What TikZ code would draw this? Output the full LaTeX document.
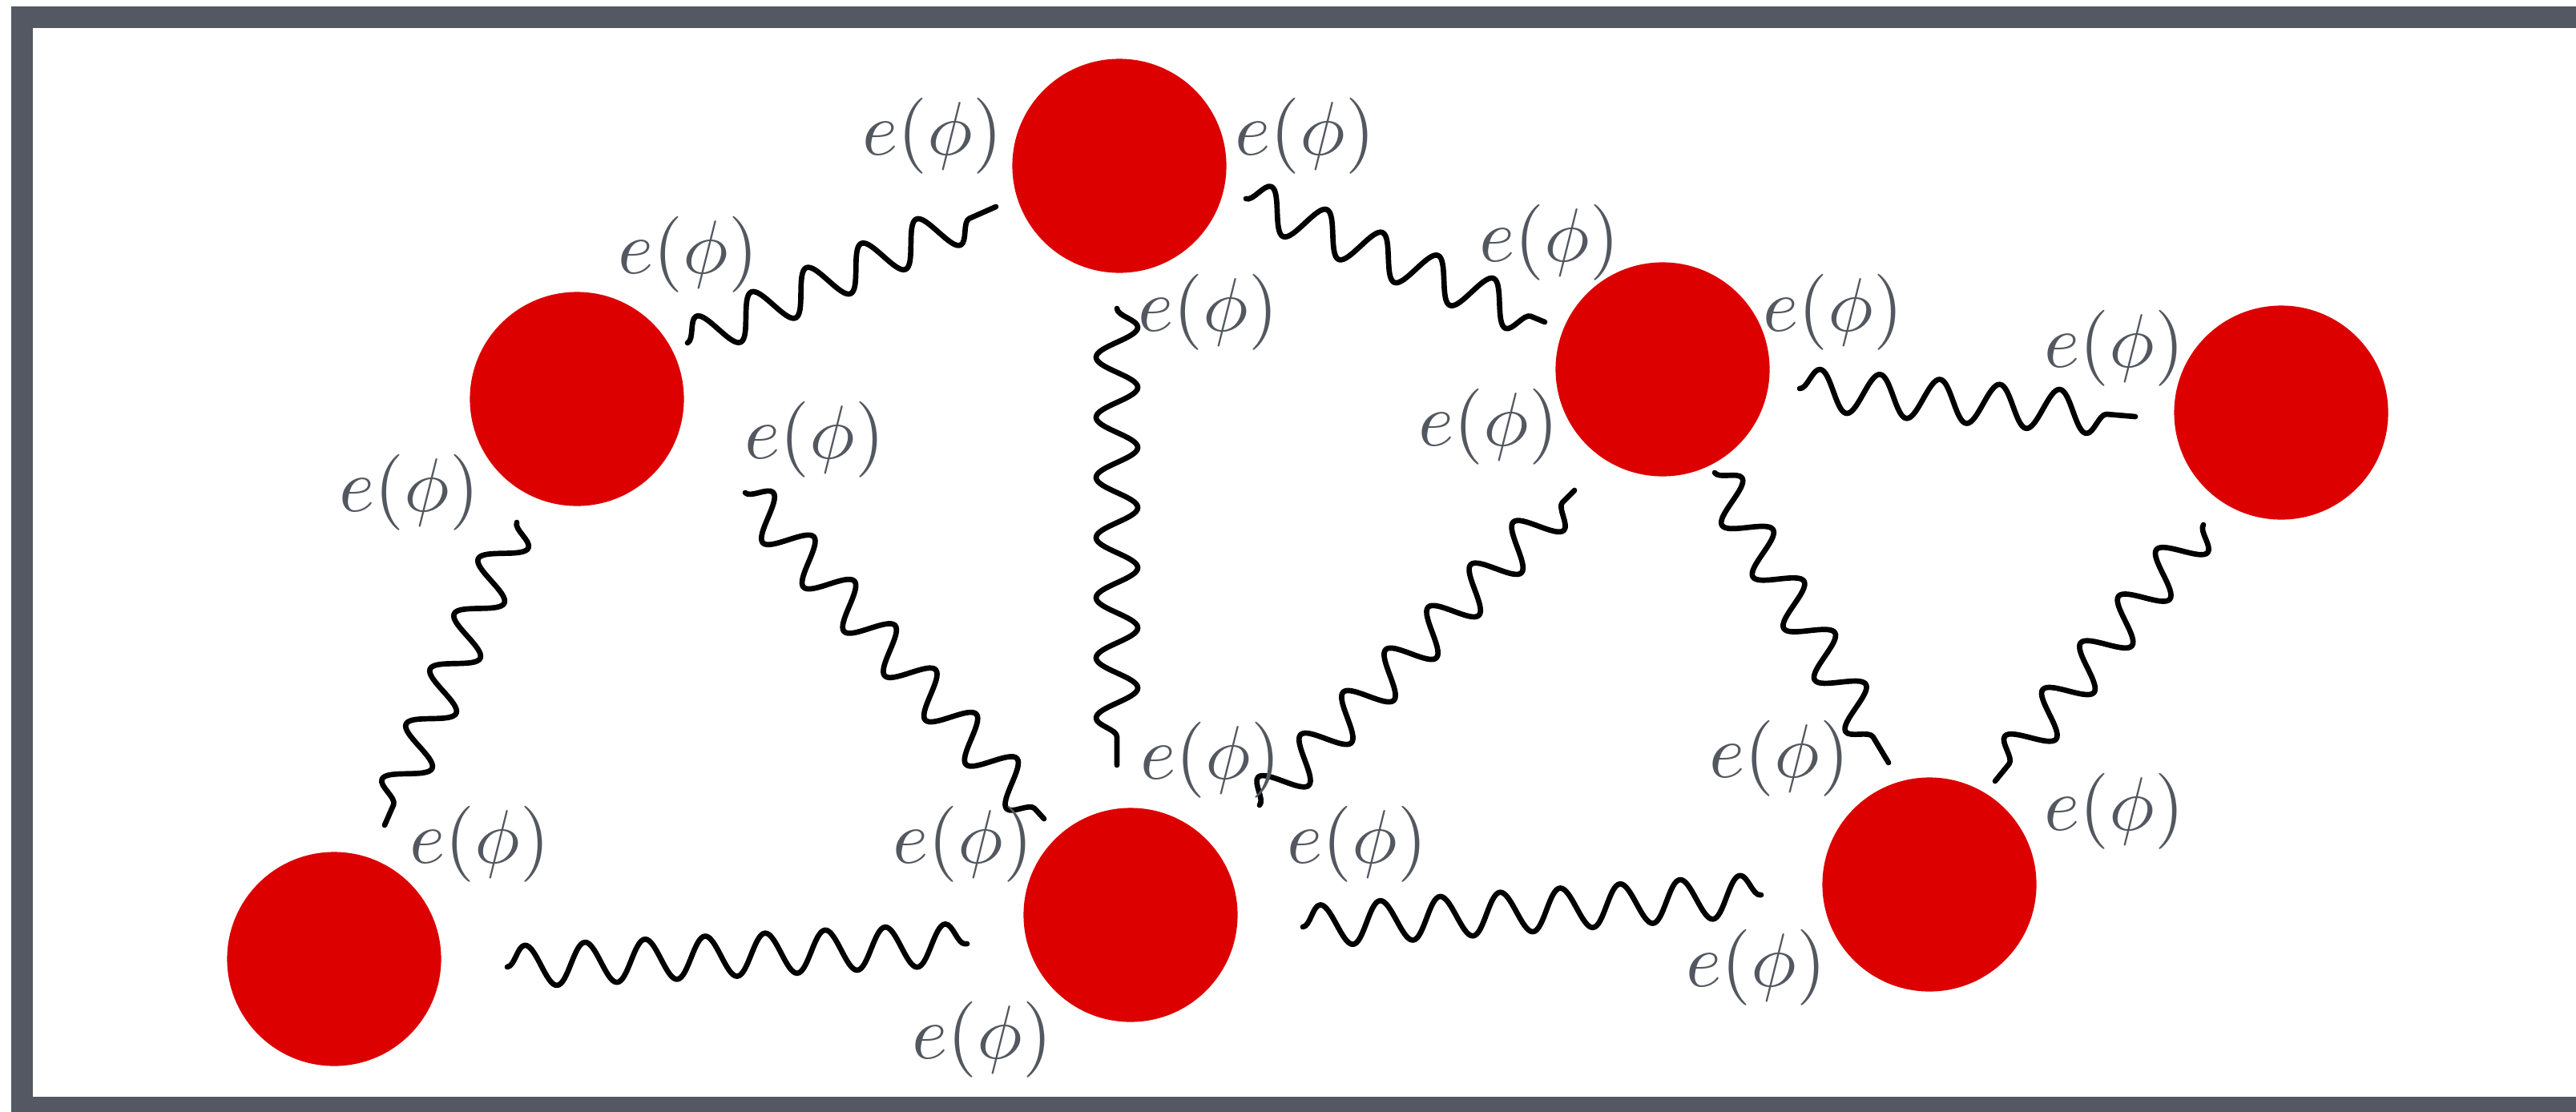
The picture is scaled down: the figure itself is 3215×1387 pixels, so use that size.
\documentclass[tikz,border=0pt]{standalone}
\usetikzlibrary{decorations.pathmorphing}
\definecolor{framegray}{HTML}{535862}
\definecolor{labelgray}{HTML}{535860}
\definecolor{ballred}{HTML}{DC0000}
\newcommand{\ephi}{\scalebox{2.7}{$e(\phi)$}}
\tikzset{
  ball/.style={circle, fill=ballred, draw=none, inner sep=0pt, minimum size=2.67cm},
  lbl/.style={text=labelgray, inner sep=0pt},
  wave/.style={draw=black, line width=1.9pt, line cap=round, line join=round,
    decorate, decoration={snake, amplitude=0.26cm, segment length=0.75cm}}
}
\begin{document}
\begin{tikzpicture}[x=0.01cm, y=-0.01cm]
\useasboundingbox (0,0) rectangle (3215,1387);
\clip (0,0) rectangle (3215,1387);
\fill[white] (0,0) rectangle (3215,1387);
\draw[framegray, line width=0.267cm] (27.3,21.3) rectangle (3300,1382.4);

% balls
\node[ball] (b1) at (1397,207) {};
\node[ball] (b2) at (720,498) {};
\node[ball] (b3) at (417,1197) {};
\node[ball] (b4) at (1411,1142) {};
\node[ball] (b5) at (2075,461) {};
\node[ball] (b6) at (2847,515) {};
\node[ball] (b7) at (2408,1104) {};

% wave end points
\coordinate (a1) at (858,428);   \coordinate (a2) at (1243,258);
\coordinate (c1) at (1555,248);  \coordinate (c2) at (1928,402);
\coordinate (v1) at (1394,385);  \coordinate (v2) at (1394,955);
\coordinate (d1) at (930,615);   \coordinate (d2) at (1303,1022);
\coordinate (e1) at (645,652);   \coordinate (e2) at (480,1030);
\coordinate (f1) at (633,1207);  \coordinate (f2) at (1207,1178);
\coordinate (g1) at (1572,1005); \coordinate (g2) at (1965,612);
\coordinate (h1) at (2140,590);  \coordinate (h2) at (2357,952);
\coordinate (i1) at (2246,485);  \coordinate (i2) at (2665,520);
\coordinate (j1) at (2750,655);  \coordinate (j2) at (2490,975);
\coordinate (k1) at (1626,1157); \coordinate (k2) at (2198,1117);

\draw[wave] (a1) -- (a2);
\draw[wave] (c1) -- (c2);
\draw[wave] (v1) -- (v2);
\draw[wave] (d1) -- (d2);
\draw[wave] (e1) -- (e2);
\draw[wave] (f1) -- (f2);
\draw[wave] (g1) -- (g2);
\draw[wave] (h1) -- (h2);
\draw[wave] (i1) -- (i2);
\draw[wave] (j1) -- (j2);
\draw[wave] (k1) -- (k2);

% labels
\node[lbl] (l1)  at (1164,170)  {\ephi};
\node[lbl] (l2)  at (1629,170)  {\ephi};
\node[lbl] (l3)  at (859,318)   {\ephi};
\node[lbl] (l4)  at (1934,303)  {\ephi};
\node[lbl] (l5)  at (1508,390)  {\ephi};
\node[lbl] (l6)  at (2288,390)  {\ephi};
\node[lbl] (l7)  at (2639,435)  {\ephi};
\node[lbl] (l8)  at (1017,549)  {\ephi};
\node[lbl] (l9)  at (1858,533)  {\ephi};
\node[lbl] (l10) at (511,615)   {\ephi};
\node[lbl] (l11) at (599,1054)  {\ephi};
\node[lbl] (l12) at (1511,949)  {\ephi};
\node[lbl] (l13) at (1202,1054) {\ephi};
\node[lbl] (l14) at (1694,1054) {\ephi};
\node[lbl] (l15) at (2221,947)  {\ephi};
\node[lbl] (l16) at (2639,1013) {\ephi};
\node[lbl] (l17) at (2192,1208) {\ephi};
\node[lbl] (l18) at (1226,1298) {\ephi};
\end{tikzpicture}
\end{document}
